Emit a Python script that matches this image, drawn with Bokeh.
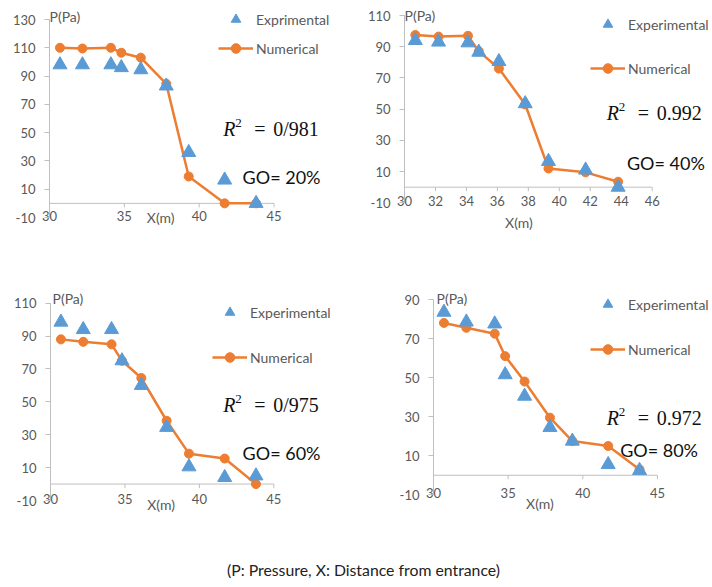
from bokeh.plotting import figure
from bokeh.models import Range1d, FixedTicker, Legend, LegendItem, Label, Div, PrintfTickFormatter
from bokeh.layouts import column, row
from bokeh.embed import file_html
from bokeh.resources import INLINE

# ---------------- data ----------------
x_pos = [30.7, 32.2, 34.1, 34.8, 36.1, 37.8, 39.3, 41.7, 43.8]

go20_exp = [98, 98, 98, 96, 94.5, 83, 36, 16.5, 0]
go20_num = [110, 109.5, 110, 106.5, 103, 84.5, 19, 0, 0]
go40_exp = [94, 93, 92.5, 86.5, 80.5, 53.5, 16.5, 11, 0]
go40_num = [97.5, 96.5, 97, 87, 76, 53, 12, 9.5, 3.5]
go60_exp = [98.5, 94, 94, 75, 60, 34.5, 10.5, 4, 5]
go60_num = [88, 86.5, 85, 75, 64.5, 38.5, 18.5, 15.5, 0]
go80_exp = [83.5, 78.5, 77.5, 51.5, 40.5, 24.5, 17.5, 5.5, 2.5]
go80_num = [78, 75.5, 72.5, 61, 48, 29.5, 17.5, 15, 3]

exp_labels = ["Exprimental", "Experimental", "Experimental", "Experimental"]
num_label = "Numerical"
r2_values = ["0/981", "0.992", "0/975", "0.972"]
go_labels = ["GO= 20%", "GO= 40%", "GO= 60%", "GO= 80%"]
y_ticks_20 = [-10, 10, 30, 50, 70, 90, 110, 130]
y_ticks_40 = [-10, 10, 30, 50, 70, 90, 110]
y_ticks_60 = [-10, 10, 30, 50, 70, 90, 110]
y_ticks_80 = [-10, 10, 30, 50, 70, 90]
x_ticks_5 = [30, 35, 40, 45]
x_ticks_2 = [30, 32, 34, 36, 38, 40, 42, 44, 46]
caption = "(P: Pressure, X: Distance from entrance)"

# ---------------- style / layout ----------------
BLUE = "#5B9BD5"
ORANGE = "#ED7D31"
GRAY_TXT = "#595959"
AXIS = "#BFBFBF"
FONT = "Lato"
SERIF = "Liberation Serif"
TXT = "#111111"

# pixel geometry (page pixels): figure box, axis-tick pixel positions, frame box
specs = [
    dict(exp=go20_exp, num=go20_num, i=0, yt=y_ticks_20, xt=x_ticks_5,
         fig=(0, 0, 364, 278), x0=49, ppx=14.97, ytop=19, ybot=217,
         frame=(44, 0, 364, 234), leg=(174, 174), sp=5,
         r2xy=(41.6, 52.9), goxy=(42.9, 18.3), pxo=0, pyo=3, xm=(36.5, -10)),
    dict(exp=go40_exp, num=go40_num, i=1, yt=y_ticks_40, xt=x_ticks_2,
         fig=(364, 0, 348, 278), x0=404, ppx=15.48, ytop=15, ybot=202.3,
         frame=(399, 0, 712, 234), leg=(191, 154), sp=20,
         r2xy=(43.07, 47.3), goxy=(44.37, 15.3), pxo=0, pyo=0, xm=(36.5, -22.5)),
    dict(exp=go60_exp, num=go60_num, i=2, yt=y_ticks_60, xt=x_ticks_5,
         fig=(0, 278, 364, 282), x0=50, ppx=14.89, ytop=302.7, ybot=500,
         frame=(45, 278, 364, 516), leg=(167, 147), sp=21,
         r2xy=(41.6, 47.8), goxy=(42.9, 18.6), pxo=2, pyo=5, xm=(36.5, -12.4)),
    dict(exp=go80_exp, num=go80_num, i=3, yt=y_ticks_80, xt=x_ticks_5,
         fig=(364, 278, 348, 282), x0=433, ppx=14.93, ytop=299, ybot=494.3,
         frame=(428, 278, 712, 516), leg=(162, 155), sp=21,
         r2xy=(41.6, 29.1), goxy=(42.5, 12.7), pxo=3, pyo=1, xm=(36.2, -14.3)),
]


def make_panel(s):
    fx, fy, W, H = s["fig"]
    fl, ft, fr, fb = s["frame"]
    xt, yt = s["xt"], s["yt"]
    ppx = s["ppx"]
    ppy = (s["ybot"] - s["ytop"]) / (yt[-1] - yt[0])
    x_start = xt[0] - (s["x0"] - fl) / ppx
    x_end = xt[0] + (fr - s["x0"]) / ppx
    y_max = yt[-1] + (s["ytop"] - ft) / ppy
    y_min = yt[0] - (fb - s["ybot"]) / ppy

    p = figure(width=W, height=H, x_range=Range1d(x_start, x_end), y_range=Range1d(y_min, y_max),
               output_backend="svg", toolbar_location=None,
               min_border_left=fl - fx, min_border_right=fx + W - fr,
               min_border_top=ft - fy, min_border_bottom=fy + H - fb)
    p.grid.visible = False
    p.outline_line_color = None
    p.background_fill_color = "white"
    p.border_fill_color = "white"

    ya = p.yaxis[0]
    ya.ticker = FixedTicker(ticks=yt)
    ya.formatter = PrintfTickFormatter(format="%d")
    ya.axis_line_color = None
    ya.major_tick_line_color = AXIS
    ya.major_tick_out = 0
    ya.major_tick_in = s["x0"] - fl
    ya.minor_tick_line_color = None
    ya.major_label_standoff = 9
    ya.major_label_text_font = FONT
    ya.major_label_text_font_size = "13px"
    ya.major_label_text_color = GRAY_TXT

    xa = p.xaxis[0]
    xa.ticker = FixedTicker(ticks=xt)
    xa.formatter = PrintfTickFormatter(format="%d")
    xa.axis_line_color = None
    xa.major_tick_line_color = None
    xa.minor_tick_line_color = None
    xa.major_tick_out = 0
    xa.major_tick_in = 0
    xa.major_label_standoff = int(round(s["ybot"] - fb - 7))
    xa.major_label_text_font = FONT
    xa.major_label_text_font_size = "13px"
    xa.major_label_text_color = GRAY_TXT

    # vertical axis line, horizontal axis line at zero with tick marks
    p.segment(x0=[xt[0]], y0=[yt[0]], x1=[xt[0]], y1=[yt[-1]], line_color=AXIS, line_width=1)
    p.segment(x0=[xt[0]], y0=[0], x1=[xt[-1]], y1=[0], line_color=AXIS, line_width=1)
    dy = 4 / ppy
    p.segment(x0=xt, y0=[0] * len(xt), x1=xt, y1=[-dy] * len(xt), line_color=AXIS, line_width=1)

    ln = p.line(x_pos, s["num"], line_color=ORANGE, line_width=2.5)
    ci = p.scatter(x_pos, s["num"], marker="circle", size=9, fill_color=ORANGE, line_color=ORANGE)
    tr = p.scatter(x_pos, s["exp"], marker="triangle", size=14, fill_color=BLUE, line_color=BLUE)

    leg = Legend(items=[LegendItem(label=exp_labels[s["i"]], renderers=[tr]),
                        LegendItem(label=num_label, renderers=[ln, ci])],
                 location=s["leg"], orientation="vertical", glyph_width=35, glyph_height=24,
                 label_height=24, spacing=s["sp"], padding=0, margin=0, label_standoff=3,
                 border_line_color=None, background_fill_alpha=0,
                 label_text_font=FONT, label_text_font_size="14px", label_text_color=GRAY_TXT)
    p.add_layout(leg)

    # axis titles
    p.add_layout(Label(x=xt[0], y=yt[-1], x_offset=s["pxo"], y_offset=s["pyo"], text="P(Pa)",
                       text_font=FONT, text_font_size="14px", text_color=GRAY_TXT,
                       text_baseline="middle"))
    p.add_layout(Label(x=s["xm"][0], y=s["xm"][1], text="X(m)", text_font=FONT,
                       text_font_size="14px", text_color=GRAY_TXT, text_baseline="middle"))

    # R^2 annotation
    rx, ry = s["r2xy"]
    p.add_layout(Label(x=rx, y=ry, text="R", text_font=SERIF, text_font_style="italic",
                       text_font_size="20px", text_color=TXT, text_baseline="middle"))
    p.add_layout(Label(x=rx, y=ry, x_offset=12, y_offset=6, text="2", text_font=SERIF,
                       text_font_size="13px", text_color=TXT, text_baseline="middle"))
    p.add_layout(Label(x=rx, y=ry, x_offset=31, text="=", text_font=SERIF,
                       text_font_size="20px", text_color=TXT, text_baseline="middle"))
    p.add_layout(Label(x=rx, y=ry, x_offset=50, text=r2_values[s["i"]], text_font=SERIF,
                       text_font_size="20px", text_color=TXT, text_baseline="middle"))
    gx, gy = s["goxy"]
    p.add_layout(Label(x=gx, y=gy, text=go_labels[s["i"]], text_font=FONT, text_font_size="18px",
                       text_color=TXT, text_baseline="middle"))
    return p


panels = [make_panel(s) for s in specs]
cap = Div(text=caption, width=712, height=19, margin=0,
          styles={"text-align": "center", "font-family": "Lato", "font-size": "15.8px",
                  "color": "#222222", "line-height": "19px", "padding-left": "15px",
                  "box-sizing": "border-box", "white-space": "nowrap"})

layout = column(row(panels[0], panels[1], spacing=0), row(panels[2], panels[3], spacing=0), cap,
                spacing=0)

open("out.html", "w").write(file_html(layout, INLINE))
